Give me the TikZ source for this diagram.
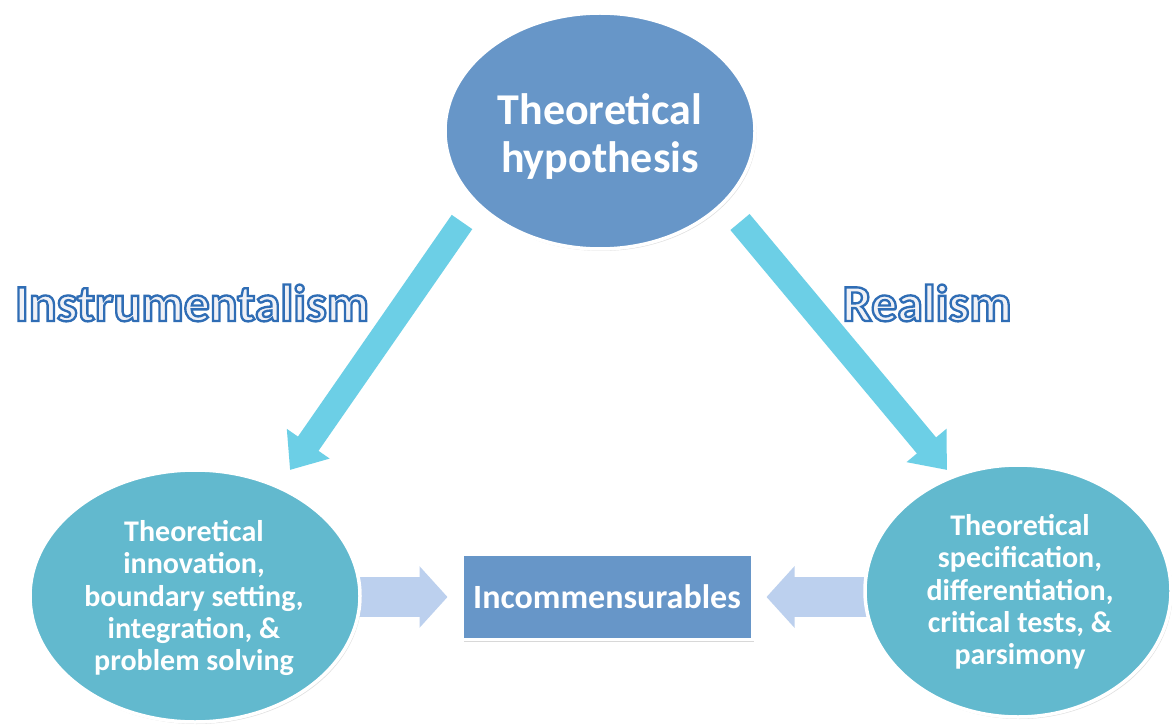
\documentclass[tikz,border=0pt]{standalone}
\usepackage{fontspec}
\setmainfont{Carlito}
\newfontfamily\lblfont{Carlito}[UprightFeatures={FakeBold=4.5}, BoldFeatures={FakeBold=4.5}]
\usetikzlibrary{shapes.geometric,arrows.meta,shadows,calc}
\definecolor{topblue}{HTML}{6796C8}
\definecolor{lowblue}{HTML}{62B9CE}
\definecolor{diagcyan}{HTML}{6CCFE6}
\definecolor{horizblue}{HTML}{BCD0EE}
\definecolor{lblfill}{HTML}{F0F1F6}
\definecolor{lbloutline}{HTML}{2F6DB5}
\begin{document}
\begin{tikzpicture}[x=1pt,y=-1pt,
  oval/.style={ellipse, draw=white, line width=3.5pt, text=white, align=center, inner sep=0pt,
    drop shadow={opacity=0.25, shadow xshift=1.5pt, shadow yshift=-2pt}},
  ovaltext/.style={text=white, align=center, inner sep=0pt},
  boxnode/.style={rectangle, draw=white, line width=3pt, fill=topblue, text=white, inner sep=0pt,
    drop shadow={opacity=0.3, shadow xshift=1.5pt, shadow yshift=-2pt}},
  diagarrow/.style={draw=diagcyan, line width=25pt, -{Triangle[width=50pt,length=32pt]}},
  horizarrow/.style={draw=horizblue, line width=40pt, -{Triangle[width=60pt,length=28pt]}},
  lbl/.style={font=\lblfont\bfseries\fontsize{52}{60}\selectfont, inner sep=0pt},
]
\useasboundingbox (0,0) rectangle (1172,727);
\fill[white] (0,0) rectangle (1172,727);

% top ellipse
\node[oval, fill=topblue, minimum width=310pt, minimum height=236pt] (T) at (600,131) {};
\node[ovaltext, font=\bfseries\fontsize{44}{48}\selectfont] (Tt) at ($(T.center)+(0,5)$) {Theoretical\\hypothesis};

% box
\node[boxnode, minimum width=290pt, minimum height=85pt,
  font=\bfseries\fontsize{34}{38}\selectfont] (I) at (607,597) {Incommensurables};

% horizontal arrows (behind the lower ellipses)
\coordinate (Lc) at (195,597);
\coordinate (Rc) at (1018,597);
\draw[horizarrow, shorten >=13pt] (Lc) -- (I.west);
\draw[horizarrow, shorten >=13pt] (Rc) -- (I.east);

\node[oval, fill=lowblue, minimum width=330pt, minimum height=252pt] (L) at (195,596) {};
\node[ovaltext, font=\bfseries\fontsize{30}{32.3}\selectfont] (Lt) at (194,598)
  {Theoretical\\innovation,\\boundary setting,\\integration, \&\\problem solving};
\node[oval, fill=lowblue, minimum width=306pt, minimum height=252pt] (R) at (1018,591) {};
\node[ovaltext, font=\bfseries\fontsize{30}{32.3}\selectfont] (Rt) at (1020,592)
  {Theoretical\\specification,\\differentiation,\\critical tests, \&\\parsimony};

% diagonal arrows
\coordinate (lt) at (462,222);
\coordinate (lh) at (290,470);
\coordinate (rt) at (740,222);
\coordinate (rh) at (947,470);
\draw[diagarrow] (lt) -- (lh);
\draw[diagarrow] (rt) -- (rh);

% outlined labels
\node[lbl, text=lblfill] (instr) at (192,303) {\pgfsetstrokecolor{lbloutline}Instrumentalism};
\node[lbl, text=lblfill] (real) at (927,303) {\pgfsetstrokecolor{lbloutline}Realism};
\end{tikzpicture}
\end{document}
